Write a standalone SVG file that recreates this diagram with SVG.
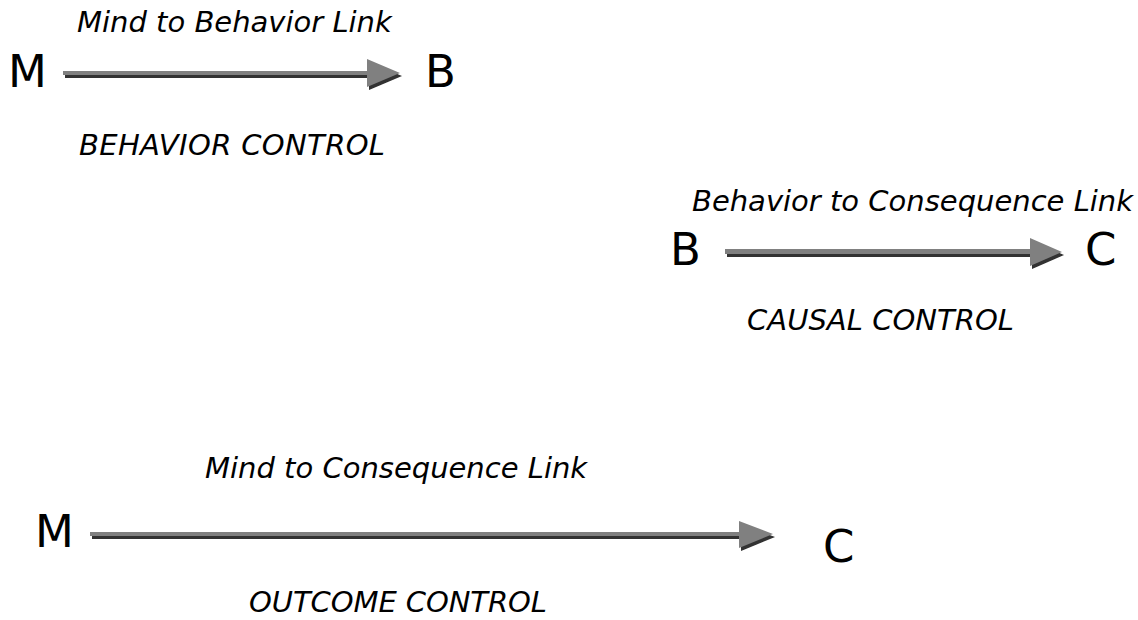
<svg xmlns="http://www.w3.org/2000/svg" width="1138" height="620" viewBox="0 0 1138 620">
<style>
.big{font-family:"DejaVu Sans",Verdana,sans-serif;font-size:45px;fill:#000}
.lbl{font-family:"DejaVu Sans",Verdana,sans-serif;font-size:29px;font-style:italic;fill:#000}
.arrow{fill:#808080}
.shadow{fill:#1a1a1a;opacity:0.9}
</style>
<defs>
<filter id="blur" x="-5%" y="-50%" width="110%" height="200%"><feGaussianBlur stdDeviation="0.7"/></filter>
</defs>
<rect width="1138" height="620" fill="#fff"/>
<g id="connectors">
<g id="arrow-mb">
<path class="shadow" filter="url(#blur)" transform="translate(2,3)" d="M63,71 H367 V59 L400,73 L367,87 V75 H63 Z"/>
<path class="arrow" d="M63,71 H367 V59 L400,73 L367,87 V75 H63 Z"/>
</g>
<g id="arrow-bc">
<path class="shadow" filter="url(#blur)" transform="translate(2,3)" d="M725,249 H1030 V238 L1062,252 L1030,266 V254 H725 Z"/>
<path class="arrow" d="M725,249 H1030 V238 L1062,252 L1030,266 V254 H725 Z"/>
</g>
<g id="arrow-mc">
<path class="shadow" filter="url(#blur)" transform="translate(2,3)" d="M90,532 H739 V521 L773,534 L739,548 V536 H90 Z"/>
<path class="arrow" d="M90,532 H739 V521 L773,534 L739,548 V536 H90 Z"/>
</g>
</g>
<g id="link-labels">
<text class="lbl" x="77" y="32">Mind to Behavior Link</text>
<text class="lbl" x="79" y="155" textLength="306">BEHAVIOR CONTROL</text>
<text class="lbl" x="692" y="211">Behavior to Consequence Link</text>
<text class="lbl" x="747" y="330" textLength="267">CAUSAL CONTROL</text>
<text class="lbl" x="205" y="478">Mind to Consequence Link</text>
<text class="lbl" x="249" y="612" textLength="298">OUTCOME CONTROL</text>
</g>
<g id="node-m1"><text class="big" x="8" y="87">M</text></g>
<g id="node-b1"><text class="big" x="425" y="87">B</text></g>
<g id="node-b2"><text class="big" x="670" y="265">B</text></g>
<g id="node-c2"><text class="big" x="1085" y="265">C</text></g>
<g id="node-m3"><text class="big" x="35" y="547">M</text></g>
<g id="node-c3"><text class="big" x="823" y="562">C</text></g>
</svg>
